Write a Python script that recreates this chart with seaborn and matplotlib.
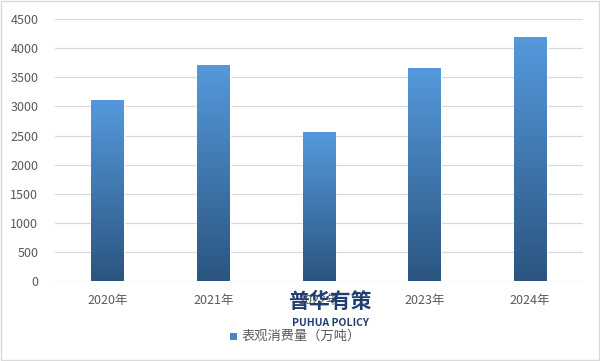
import matplotlib
matplotlib.use("Agg")
import matplotlib.pyplot as plt
import numpy as np
import pandas as pd
import seaborn as sns
from matplotlib.colors import LinearSegmentedColormap
from matplotlib.patches import Rectangle

categories = ["2020年", "2021年", "2022年", "2023年", "2024年"]
values = [3110, 3710, 2560, 3660, 4190]
series_name = "表观消费量（万吨）"
yticks = [0, 500, 1000, 1500, 2000, 2500, 3000, 3500, 4000, 4500]

sns.set_theme(style="white")
plt.rcParams['font.family'] = ['Noto Sans CJK SC', 'DejaVu Sans']

df = pd.DataFrame({"year": categories, "value": values})

fig = plt.figure(figsize=(6.0, 3.61), dpi=100)
ax = fig.add_axes([0.0917, 0.2216, 0.88, 0.7254])

sns.barplot(data=df, x="year", y="value", ax=ax, width=0.31, color="#4a8ed0",
            saturation=1, zorder=2)

ax.set_ylim(0, 4500)
ax.set_xlim(-0.5, len(categories) - 0.5)
ax.set_yticks(yticks)
ax.set_yticklabels([str(v) for v in yticks])
ax.set_xlabel("")
ax.set_ylabel("")
for s in ax.spines.values():
    s.set_visible(False)
ax.grid(axis="y", color="#d9d9d9", linewidth=0.9, zorder=0)
ax.set_axisbelow(True)
ax.tick_params(axis="both", length=0, colors="#595959", labelsize=9)
ax.tick_params(axis="x", pad=9)
ax.tick_params(axis="y", pad=12)

cmap = LinearSegmentedColormap.from_list("g", ["#2b5580", "#5599dc"])
grad = np.linspace(0, 1, 256).reshape(-1, 1)
for p in ax.patches:
    x0, y0 = p.get_x(), p.get_y()
    w, h = p.get_width(), p.get_height()
    im = ax.imshow(grad, cmap=cmap, origin="lower", aspect="auto",
                   extent=[x0, x0 + w, y0, y0 + h], zorder=3)
    im.set_clip_path(p)
    p.set_facecolor("none")
ax.set_xlim(-0.5, len(categories) - 0.5)
ax.set_ylim(0, 4500)

# legend
fig.patches.append(Rectangle((230 / 600, 1 - 340 / 361), 7 / 600, 7 / 361,
                             transform=fig.transFigure, facecolor="#4a86c5",
                             edgecolor="none"))
fig.text(241 / 600, 1 - 336 / 361, series_name, fontsize=9.5, color="#595959",
         va="center", ha="left")

# watermark
fig.text(330 / 600, 1 - 301 / 361, "普华有策", fontsize=15, fontweight="bold",
         color="#1f3f73", ha="center", va="center")
fig.text(330 / 600, 1 - 323 / 361, "PUHUA POLICY", fontsize=7.5, fontweight="bold",
         color="#1f3f73", ha="center", va="center")

# figure border
fig.patches.append(Rectangle((0.002, 0.003), 0.996, 0.994, transform=fig.transFigure,
                             facecolor="none", edgecolor="#d9d9d9", linewidth=1))

fig.savefig("out.png", dpi=100)
